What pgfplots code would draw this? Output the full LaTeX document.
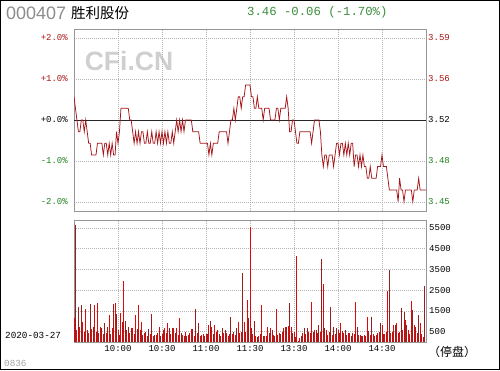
\documentclass[border=0pt]{standalone}
\usepackage{fontspec}
\setmainfont{Liberation Sans}
\newfontfamily\mono{Liberation Mono}
\newfontfamily\cjk{Noto Sans CJK SC}
\usepackage{pgfplots}
\pgfplotsset{compat=1.18}
\definecolor{pline}{RGB}{165,20,25}
\definecolor{upred}{RGB}{170,20,20}
\definecolor{dngreen}{RGB}{30,130,30}
\definecolor{ttlgreen}{RGB}{60,140,60}
\definecolor{barA}{RGB}{220,10,10}
\definecolor{barB}{RGB}{150,30,30}
\definecolor{framec}{RGB}{150,150,150}
\definecolor{gridc}{RGB}{180,180,180}
\pgfplotsset{chart/.style={scale only axis, width=352pt, xmin=0, xmax=240,
  xtick={30,60,...,210}, axis line style={framec, line width=0.6pt},
  grid style={gridc, dash pattern=on 1pt off 1pt, line width=0.5pt},
  major tick length=0pt, tick style={draw=none},
  ticklabel style={font=\mono\fontsize{9}{9}\selectfont}}}
\begin{document}
\begin{tikzpicture}[x=1pt,y=1pt]
\node[text=gray!38, font=\bfseries\fontsize{26.5}{26.5}\selectfont, inner sep=0pt] at (129,309) {CFi.CN};

\begin{axis}[chart, at={(74pt,159pt)}, anchor=south west, height=182pt,
  ymin=3.4419, ymax=3.5981, xticklabels={},
  ytick={3.4496,3.4848,3.52,3.5552,3.5904},
  yticklabels={\textcolor{dngreen}{-2.0\%},\textcolor{dngreen}{-1.0\%},\textcolor{black}{+0.0\%},\textcolor{upred}{+1.0\%},\textcolor{upred}{+2.0\%}},
  yticklabel style={anchor=east, inner sep=0pt, xshift=-6pt},
  xmajorgrids, ymajorgrids]
\addplot[black!85, line width=0.8pt] coordinates {(0,3.52) (240,3.52)};
\addplot[pline, line width=0.75pt] table {
x y
0 3.54
1 3.53
2 3.52
3 3.51
4 3.51
5 3.52
6 3.52
7 3.51
8 3.52
9 3.51
10 3.50
11 3.50
12 3.49
13 3.49
14 3.49
15 3.49
16 3.50
17 3.50
18 3.50
19 3.50
20 3.49
21 3.50
22 3.50
23 3.49
24 3.50
25 3.49
26 3.50
27 3.49
28 3.49
29 3.51
30 3.50
31 3.51
32 3.53
33 3.53
34 3.53
35 3.53
36 3.53
37 3.53
38 3.52
39 3.52
40 3.51
41 3.50
42 3.51
43 3.50
44 3.51
45 3.50
46 3.51
47 3.51
48 3.50
49 3.50
50 3.51
51 3.50
52 3.50
53 3.51
54 3.50
55 3.50
56 3.51
57 3.50
58 3.51
59 3.50
60 3.51
61 3.50
62 3.51
63 3.50
64 3.51
65 3.50
66 3.50
67 3.51
68 3.50
69 3.51
70 3.52
71 3.51
72 3.52
73 3.51
74 3.52
75 3.51
76 3.52
77 3.52
78 3.52
79 3.52
80 3.52
81 3.51
82 3.51
83 3.51
84 3.51
85 3.51
86 3.50
87 3.50
88 3.50
89 3.50
90 3.50
91 3.50
92 3.49
93 3.50
94 3.49
95 3.50
96 3.50
97 3.50
98 3.50
99 3.51
100 3.51
101 3.51
102 3.51
103 3.51
104 3.51
105 3.50
106 3.51
107 3.52
108 3.52
109 3.53
110 3.52
111 3.53
112 3.54
113 3.54
114 3.53
115 3.54
116 3.54
117 3.55
118 3.55
119 3.55
120 3.55
121 3.54
122 3.54
123 3.53
124 3.53
125 3.54
126 3.53
127 3.53
128 3.53
129 3.52
130 3.53
131 3.53
132 3.53
133 3.53
134 3.52
135 3.52
136 3.52
137 3.52
138 3.53
139 3.53
140 3.52
141 3.53
142 3.53
143 3.53
144 3.53
145 3.54
146 3.53
147 3.51
148 3.51
149 3.52
150 3.52
151 3.51
152 3.50
153 3.50
154 3.51
155 3.51
156 3.51
157 3.51
158 3.51
159 3.51
160 3.51
161 3.51
162 3.50
163 3.51
164 3.52
165 3.52
166 3.52
167 3.52
168 3.51
169 3.49
170 3.48
171 3.49
172 3.49
173 3.48
174 3.49
175 3.49
176 3.49
177 3.48
178 3.49
179 3.50
180 3.50
181 3.49
182 3.50
183 3.50
184 3.49
185 3.50
186 3.49
187 3.50
188 3.49
189 3.50
190 3.50
191 3.48
192 3.49
193 3.49
194 3.48
195 3.49
196 3.48
197 3.49
198 3.48
199 3.48
200 3.47
201 3.47
202 3.48
203 3.47
204 3.47
205 3.47
206 3.47
207 3.48
208 3.48
209 3.48
210 3.49
211 3.48
212 3.48
213 3.48
214 3.47
215 3.46
216 3.46
217 3.46
218 3.46
219 3.46
220 3.46
221 3.45
222 3.47
223 3.46
224 3.46
225 3.45
226 3.46
227 3.46
228 3.46
229 3.46
230 3.46
231 3.45
232 3.46
233 3.46
234 3.46
235 3.47
236 3.46
237 3.46
238 3.46
239 3.46
240 3.46
};
\end{axis}

\begin{axis}[chart, at={(74pt,159pt)}, anchor=south west, height=182pt,
  ymin=3.4419, ymax=3.5981, xtick=\empty, axis line style={draw=none},
  ytick={3.4496,3.4848,3.52,3.5552,3.5904},
  yticklabels={\textcolor{dngreen}{3.45},\textcolor{dngreen}{3.48},\textcolor{black}{3.52},\textcolor{upred}{3.56},\textcolor{upred}{3.59}},
  yticklabel pos=right,
  yticklabel style={anchor=west, inner sep=0pt, xshift=2pt}]
\addplot[draw=none] coordinates {(0,3.52)};
\end{axis}

\begin{axis}[chart, at={(74pt,28pt)}, anchor=south west, height=122pt,
  ymin=0, ymax=5886,
  ytick={500,1500,2500,3500,4500,5500},
  yticklabels={500,1500,2500,3500,4500,5500},
  yticklabel pos=right,
  yticklabel style={anchor=west, inner sep=0pt, xshift=3pt},
  xticklabels={10:00,10:30,11:00,11:30,13:30,14:00,14:30},
  xticklabel style={anchor=north, inner sep=0pt, yshift=-3pt},
  xmajorgrids, ymajorgrids]
\addplot[ycomb, barA, line width=0.9pt, mark=none] coordinates {
(0,1150)(2,600)(4,700)(6,980)(8,1600)(10,450)(12,650)(14,1800)(16,1870)(18,730)
(20,380)(22,450)(24,1300)(26,660)(28,1870)(30,580)(32,1420)(34,2960)(36,580)(38,420)
(40,660)(42,1300)(44,1800)(46,980)(48,420)(50,300)(52,380)(54,300)(56,340)(58,740)
(60,385)(62,660)(64,900)(66,380)(68,660)(70,660)(72,1140)(74,340)(76,500)(78,340)
(80,610)(82,300)(84,420)(86,300)(88,385)(90,385)(92,820)(94,740)(96,820)(98,580)
(100,300)(102,420)(104,450)(106,385)(108,380)(110,350)(112,950)(114,500)(116,980)(118,2020)
(120,5560)(122,380)(124,290)(126,290)(128,1790)(130,290)(132,740)(134,660)(136,340)(138,1610)
(140,420)(142,500)(144,710)(146,770)(148,740)(150,500)(152,4150)(154,200)(156,420)(158,380)
(160,500)(162,1930)(164,580)(166,420)(168,500)(170,2800)(172,580)(174,500)(176,340)(178,380)
(180,580)(182,900)(184,420)(186,350)(188,420)(190,420)(192,1910)(194,340)(196,300)(198,340)
(200,1220)(202,340)(204,385)(206,340)(208,500)(210,820)(212,385)(214,2460)(216,420)(218,820)
(220,900)(222,500)(224,580)(226,1060)(228,580)(230,1990)(232,820)(234,420)(236,900)(238,260)
};
\addplot[ycomb, barB, line width=0.9pt, mark=none] coordinates {
(1,5640)(3,1700)(5,1800)(7,500)(9,580)(11,1820)(13,730)(15,500)(17,440)(19,660)
(21,900)(23,740)(25,400)(27,1820)(29,1370)(31,350)(33,980)(35,1000)(37,740)(39,660)
(41,380)(43,610)(45,580)(47,350)(49,500)(51,610)(53,1350)(55,340)(57,450)(59,300)
(61,580)(63,420)(65,660)(67,660)(69,420)(71,350)(73,420)(75,280)(77,300)(79,420)
(81,610)(83,1600)(85,900)(87,340)(89,300)(91,385)(93,1000)(95,380)(97,500)(99,385)
(101,660)(103,580)(105,300)(107,1230)(109,470)(111,690)(113,420)(115,3340)(117,500)(119,1140)
(121,660)(123,1030)(125,250)(127,385)(129,290)(131,300)(133,420)(135,580)(137,280)(139,340)
(141,380)(143,660)(145,740)(147,1860)(149,420)(151,250)(153,60)(155,290)(157,660)(159,660)
(161,420)(163,500)(165,580)(167,820)(169,4000)(171,660)(173,350)(175,1700)(177,740)(179,660)
(181,420)(183,550)(185,580)(187,450)(189,300)(191,380)(193,740)(195,340)(197,290)(199,300)
(201,550)(203,1220)(205,300)(207,450)(209,900)(211,380)(213,500)(215,3470)(217,500)(219,820)
(221,420)(223,1620)(225,1460)(227,820)(229,400)(231,1520)(233,740)(235,1290)(237,400)(239,2700)
};
\end{axis}

\node[anchor=west, text={rgb,255:red,140;green,140;blue,140}, font=\fontsize{18}{18}\selectfont, inner sep=0pt] at (6pt,356.5pt) {000407};
\node[anchor=west, font=\cjk\fontsize{14.5}{14.5}\selectfont, inner sep=0pt] at (71pt,357pt) {胜利股份};
\node[anchor=west, text=ttlgreen, font=\mono\fontsize{12.3}{12.3}\selectfont, inner sep=0pt] at (247pt,357.5pt) {3.46 -0.06 (-1.70\%)};
\node[anchor=west, font=\mono\fontsize{9.3}{9.3}\selectfont, inner sep=0pt] at (5pt,35pt) {2020-03-27};
\node[anchor=west, text=gray!70, font=\mono\fontsize{9.3}{9.3}\selectfont, inner sep=0pt] at (4pt,7pt) {0836};
\node[anchor=west, font=\cjk\fontsize{12}{12}\selectfont, inner sep=0pt] at (428pt,18.3pt) {（停盘）};
\pgfresetboundingbox
\draw[black, line width=0.8pt] (0.4pt,0.4pt) rectangle (499.6pt,369.6pt);
\path[use as bounding box] (0pt,0pt) rectangle (500pt,370pt);
\end{tikzpicture}
\end{document}
